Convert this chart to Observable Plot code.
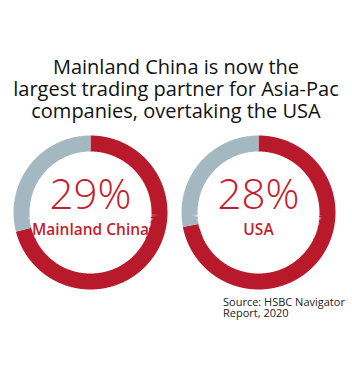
<!DOCTYPE html>
<html>
<head>
<meta charset="utf-8">
<script src="https://cdn.jsdelivr.net/npm/d3@7"></script>
<script src="https://cdn.jsdelivr.net/npm/@observablehq/plot@0.6"></script>
<style>
  html, body { margin: 0; padding: 0; background: #fff; }
  body { width: 352px; height: 372px; overflow: hidden; position: relative; font-family: "Open Sans", sans-serif; }
  #title { position: absolute; left: 0; top: 56px; width: 352px; text-align: center; font-size: 20px; color: #111; }
  #title div { height: 22px; line-height: 22px; white-space: nowrap; }
  #chart { position: absolute; left: 0; top: 130px; }
  #source { position: absolute; left: 223px; top: 296px; font-size: 11px; color: #222; }
  #source div { height: 11px; line-height: 11px; white-space: nowrap; }
</style>
</head>
<body>
<div id="title"></div>
<div id="chart"></div>
<div id="source"></div>
<script>
// ---- data ----
const titleLines = ["Mainland China is now the", "largest trading partner for Asia-Pac", "companies, overtaking the USA"];
const countries = ["Mainland China", "USA"];
const shares = [29, 28];               // percent
const segments = ["rest", "share"];
const sourceLines = ["Source: HSBC Navigator", "Report, 2020"];

// ---- style ----
const RED = "#B81A2B", GREY = "#A3B8C1", TEXT_RED = "#C41E2E";
const R = 69, RING = 16, W = 160, H = 164;

for (const [id, lines] of [["title", titleLines], ["source", sourceLines]]) {
  const el = document.getElementById(id);
  lines.forEach(t => { const d = document.createElement("div"); d.textContent = t; el.appendChild(d); });
}

// arc points derived from the shares (red from 12 o'clock clockwise, grey = share)
const arcRows = [];
countries.forEach((c, i) => {
  const f = 1 - shares[i] / 100;
  [[segments[0], 0, f], [segments[1], f, 1]].forEach(([seg, a, b]) => {
    const n = Math.ceil((b - a) * 720);
    for (let k = 0; k <= n; k++) {
      const th = 2 * Math.PI * (a + (b - a) * k / n);
      arcRows.push({country: c, seg, x: R * Math.sin(th), y: R * Math.cos(th)});
    }
  });
});
const labelRows = countries.map((c, i) => ({country: c, pct: shares[i] + "%", name: c}));

const chart = Plot.plot({
  width: 352, height: H,
  marginLeft: 9.5, marginRight: 14.5, marginTop: 0, marginBottom: 0,
  facet: {marginTop: 0, marginRight: 0, marginBottom: 0, marginLeft: 0},
  fx: {domain: countries, paddingInner: 8 / 168, paddingOuter: 0, axis: null, label: null},
  x: {domain: [-W / 2, W / 2], axis: null},
  y: {domain: [-H / 2, H / 2], axis: null},
  color: {domain: segments, range: [RED, GREY]},
  style: {fontFamily: "Open Sans, sans-serif", background: "transparent", overflow: "visible"},
  marks: [
    Plot.line(arcRows, {fx: "country", x: "x", y: "y", z: "seg", stroke: "seg",
      strokeWidth: RING, strokeLinecap: "butt", strokeLinejoin: "miter"}),
    Plot.text(labelRows, {fx: "country", x: () => 0, y: () => 0, text: "pct",
      lineAnchor: "bottom", dy: -3.5, fontSize: 42, fontWeight: 300, fill: TEXT_RED}),
    Plot.text(labelRows, {fx: "country", x: () => 0, y: () => 0, text: "name",
      lineAnchor: "bottom", dy: 22, fontSize: 15.5, fontWeight: 600, fill: TEXT_RED})
  ]
});
document.getElementById("chart").appendChild(chart);
</script>
</body>
</html>
